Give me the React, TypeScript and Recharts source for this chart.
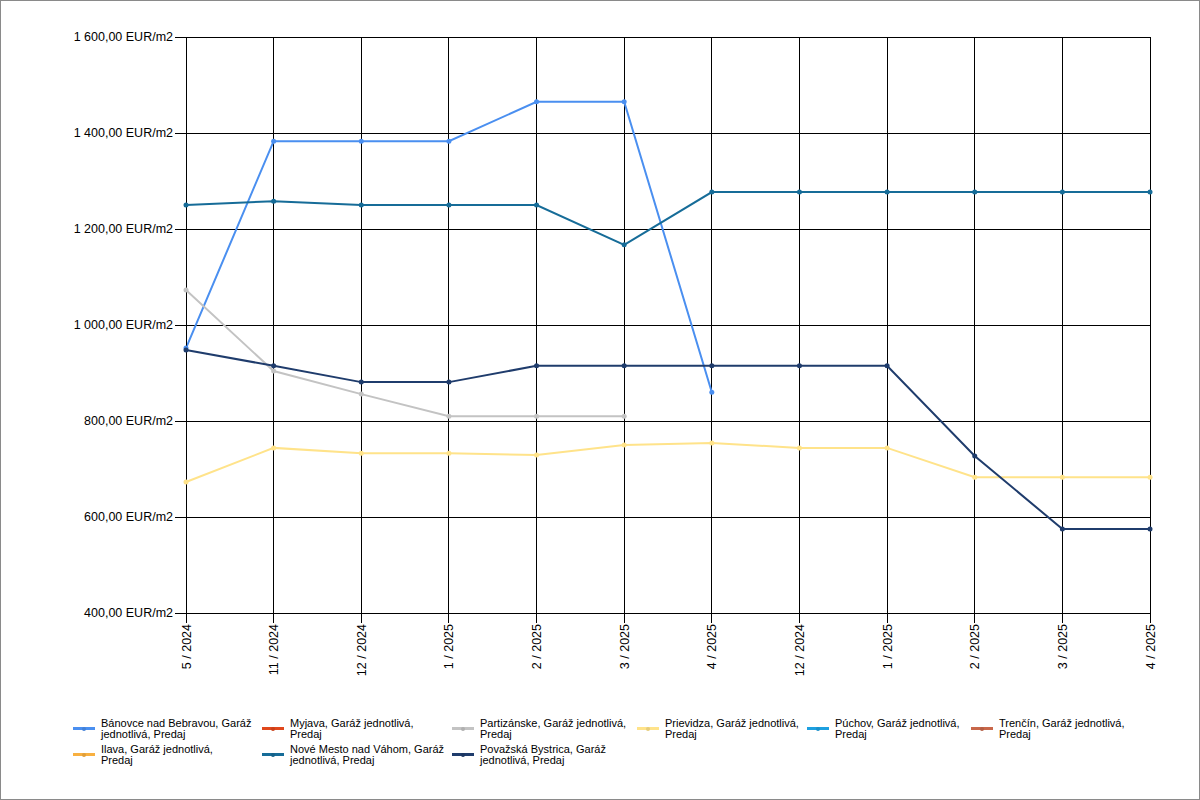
import { LineChart, Line, XAxis, YAxis, CartesianGrid } from 'recharts'

const xLabels = ['5 / 2024', '11 / 2024', '12 / 2024', '1 / 2025', '2 / 2025', '3 / 2025', '4 / 2025', '12 / 2024', '1 / 2025', '2 / 2025', '3 / 2025', '4 / 2025']

const yTicks = [400, 600, 800, 1000, 1200, 1400, 1600]

const banovce = [952, 1383, 1383, 1383, 1465, 1465, 860, null, null, null, null, null]
const myjava: (number | null)[] = xLabels.map(() => null)
const partizanske = [1073, 904, 856, 810, 810, 810, null, null, null, null, null, null]
const prievidza = [673, 744, 733, 733, 729, 750, 754, 744, 744, 683, 683, 683]
const puchov: (number | null)[] = xLabels.map(() => null)
const trencin: (number | null)[] = xLabels.map(() => null)
const ilava: (number | null)[] = xLabels.map(() => null)
const noveMesto = [1250, 1258, 1250, 1250, 1250, 1167, 1277, 1277, 1277, 1277, 1277, 1277]
const povazska = [948, 915, 881, 881, 915, 915, 915, 915, 915, 727, 575, 575]

// draw order = row-major legend order
const series = [
  { key: 'banovce', name: 'Bánovce nad Bebravou, Garáž\njednotlivá, Predaj', color: '#4a8ff0', values: banovce },
  { key: 'myjava', name: 'Myjava, Garáž jednotlivá,\nPredaj', color: '#e0471c', values: myjava },
  { key: 'partizanske', name: 'Partizánske, Garáž jednotlivá,\nPredaj', color: '#c3c3c3', values: partizanske },
  { key: 'prievidza', name: 'Prievidza, Garáž jednotlivá,\nPredaj', color: '#ffe38a', values: prievidza },
  { key: 'puchov', name: 'Púchov, Garáž jednotlivá,\nPredaj', color: '#1ea0e0', values: puchov },
  { key: 'trencin', name: 'Trenčín, Garáž jednotlivá,\nPredaj', color: '#c8674a', values: trencin },
  { key: 'ilava', name: 'Ilava, Garáž jednotlivá,\nPredaj', color: '#f8b040', values: ilava },
  { key: 'noveMesto', name: 'Nové Mesto nad Váhom, Garáž\njednotlivá, Predaj', color: '#166c98', values: noveMesto },
  { key: 'povazska', name: 'Považská Bystrica, Garáž\njednotlivá, Predaj', color: '#1f3c6c', values: povazska },
]

const legendCols = [73, 262, 452, 637, 807, 971]
const legendSlots = [
  [0, 0], [1, 0], [2, 0], [3, 0], [4, 0], [5, 0],
  [0, 1], [1, 1], [2, 1],
]

const data = xLabels.map((label, i) => {
  const row: Record<string, number | string | null> = { idx: i, label }
  series.forEach((s) => {
    row[s.key] = s.values[i]
  })
  return row
})

const font = '"Liberation Sans", Arial, sans-serif'

function fmtY(v: number) {
  const [int, dec] = v.toFixed(2).split('.')
  return `${int.replace(/\B(?=(\d{3})+(?!\d))/g, ' ')},${dec} EUR/m2`
}

function XTick(props: any) {
  const { x, y, payload } = props
  return (
    <g transform={`translate(${x},${y})`}>
      <text transform="rotate(-90)" textAnchor="end" dy={4.5} fontSize={12.5} fill="#000" fontFamily={font}>
        {xLabels[payload.value]}
      </text>
    </g>
  )
}

export default function App() {
  return (
    <div style={{ position: 'relative', width: 1200, height: 800, boxSizing: 'border-box', border: '1px solid #8a8a8a', background: '#fff', fontFamily: font }}>
      <style>{`body{margin:0}
.recharts-cartesian-grid line, .recharts-cartesian-axis line { shape-rendering: crispEdges; }`}</style>
      <div style={{ position: 'absolute', left: -1, top: -1 }}>
        <LineChart width={1200} height={700} data={data} margin={{ top: 37, right: 50, bottom: 0, left: 0 }}>
          <CartesianGrid stroke="#000" strokeWidth={1} />
          <XAxis
            dataKey="idx"
            type="category"
            interval={0}
            height={87}
            tickSize={10}
            tickMargin={1}
            tick={<XTick />}
            axisLine={{ stroke: '#000' }}
            tickLine={{ stroke: '#000' }}
          />
          <YAxis
            type="number"
            domain={[400, 1600]}
            ticks={yTicks}
            interval={0}
            width={186}
            tickSize={11}
            tickMargin={2}
            tickFormatter={fmtY}
            tick={{ fill: '#000', fontSize: 12.5, fontFamily: font }}
            axisLine={{ stroke: '#000' }}
            tickLine={{ stroke: '#000' }}
          />
          {series.map((s) => (
            <Line
              key={s.key}
              dataKey={s.key}
              name={s.name}
              type="linear"
              stroke={s.color}
              strokeWidth={2}
              dot={{ r: 2.5, fill: s.color, stroke: s.color, strokeWidth: 0 }}
              isAnimationActive={false}
            />
          ))}
        </LineChart>
      </div>
      {series.map((s, i) => {
        const [c, r] = legendSlots[i]
        const left = legendCols[c] - 1
        const top = 718 + r * 26 - 1
        return (
          <div key={s.key} style={{ position: 'absolute', left, top, height: 22 }}>
            <div style={{ position: 'absolute', left: 0, top: 9, width: 22, height: 3, background: s.color }} />
            <div style={{ position: 'absolute', left: 9, top: 8.5, width: 4, height: 4, borderRadius: 2, background: s.color, filter: 'brightness(0.9)' }} />
            <div style={{ position: 'absolute', left: 28, top: 0, whiteSpace: 'pre', fontSize: 11, lineHeight: '11px', color: '#000' }}>
              {s.name}
            </div>
          </div>
        )
      })}
    </div>
  )
}
